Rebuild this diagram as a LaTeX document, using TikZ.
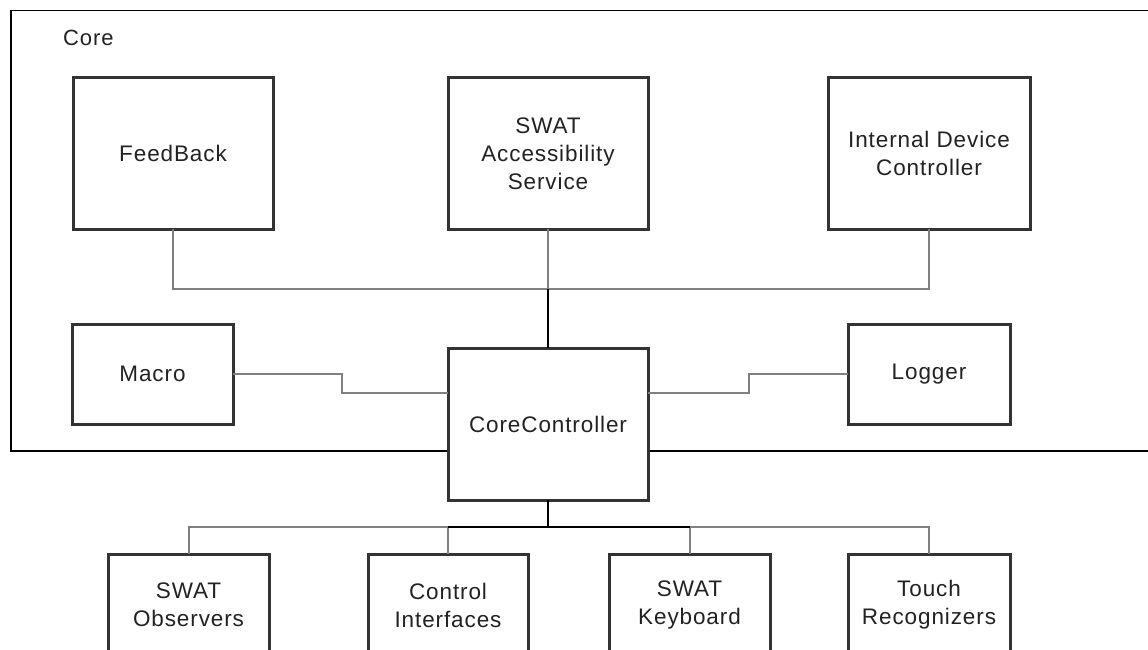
\documentclass[tikz,border=0pt]{standalone}
\usepackage{fontspec}
\setmainfont{Liberation Sans}[LetterSpace=4]
\definecolor{boxc}{HTML}{333333}
\definecolor{txtc}{HTML}{222222}
\definecolor{connc}{HTML}{808080}
\begin{document}
\begin{tikzpicture}[x=1pt,y=-1pt,
  comp/.style={draw=boxc,line width=3pt,fill=white,inner sep=0pt,outer sep=0pt,
    align=center,text=txtc,font=\fontsize{22.5}{28}\selectfont},
  conn/.style={draw=connc,line width=2pt},
  trunk/.style={draw=black,line width=2.5pt},
  ]
\useasboundingbox (0,0) rectangle (1148,650);
\clip (0,0) rectangle (1148,650);
% container
\node[draw=black,line width=1.5pt,minimum width=1150pt,minimum height=440pt,inner sep=0pt,anchor=north west] (core) at (10,10) {};
\node[anchor=west,text=txtc,font=\fontsize{22}{26}\selectfont,inner sep=0pt] (corelbl) at (63,38) {Core};
% top row
\node[comp,minimum width=200pt,minimum height=151pt] (fb) at (173,153.5) {FeedBack};
\node[comp,minimum width=200pt,minimum height=151pt] (sas) at (548,153.5) {SWAT\\Accessibility\\Service};
\node[comp,minimum width=202pt,minimum height=151pt] (idc) at (929,153.5) {Internal Device\\Controller};
% middle row
\node[comp,minimum width=161pt,minimum height=100pt] (macro) at (152.5,374) {Macro};
\node[comp,minimum width=200pt,minimum height=152pt] (cc) at (548,424) {CoreController};
\node[comp,minimum width=162pt,minimum height=100pt] (logger) at (929,374) {Logger};
% bottom row
\node[comp,minimum width=161pt,minimum height=102pt] (obs) at (188.5,605) {SWAT\\Observers};
\node[comp,minimum width=160pt,minimum height=102pt] (ci) at (448,605) {Control\\Interfaces};
\node[comp,minimum width=161pt,minimum height=102pt] (kb) at (689.5,605) {SWAT\\Keyboard};
\node[comp,minimum width=162pt,minimum height=102pt] (tr) at (929,605) {Touch\\Recognizers};
% connectors top
\coordinate (topbus) at (548,289);
\draw[conn] (fb.south) |- (topbus) -| (idc.south);
\draw[conn] (sas.south) -- (topbus);
\draw[trunk] (topbus) -- (cc.north);
% side connectors
\coordinate (mstep) at (342,374);
\coordinate (lstep) at (749,374);
\draw[conn] (macro.east) -- (mstep) |- ([yshift=31pt]cc.west);
\draw[conn] (logger.west) -- (lstep) |- ([yshift=31pt]cc.east);
% bottom connectors
\coordinate (botbus) at (548,527);
\draw[conn] (obs.north) |- (botbus) -| (tr.north);
\draw[conn] (ci.north) -- (ci.north |- botbus);
\draw[conn] (kb.north) -- (kb.north |- botbus);
\draw[trunk] (cc.south) -- (botbus);
\draw[draw=black,line width=2pt] (ci.north |- botbus) -- (kb.north |- botbus);
\end{tikzpicture}
\end{document}
